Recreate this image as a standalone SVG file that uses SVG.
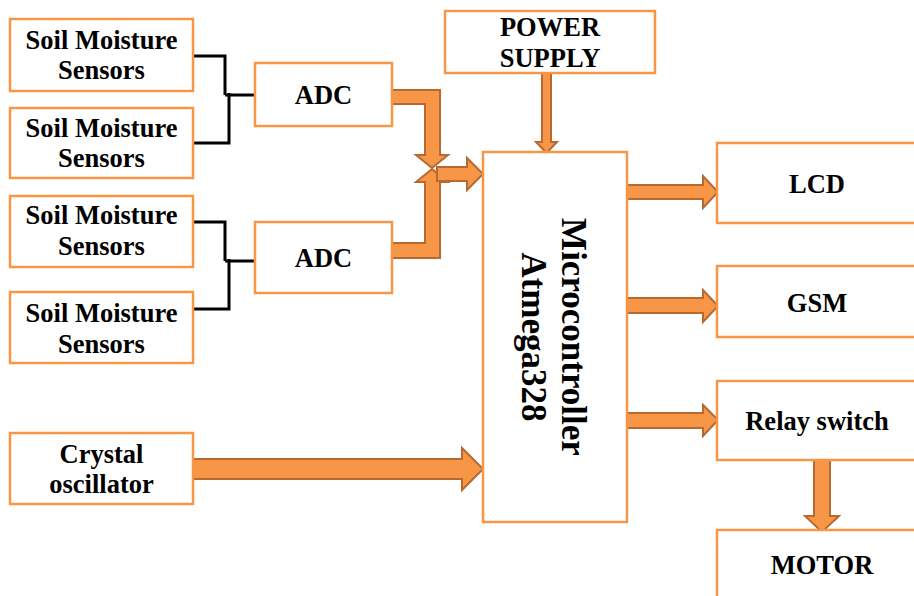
<svg xmlns="http://www.w3.org/2000/svg" width="914" height="596" viewBox="0 0 914 596">
<style>
.box{fill:#fff;stroke:#F79646;stroke-width:2.5}
.t{font-family:"Liberation Serif","Times New Roman",serif;font-weight:bold;font-size:26.5px;fill:#000;text-anchor:middle}
.arr{fill:#F79646;stroke:#B8692F;stroke-width:2;stroke-linejoin:miter}
.wire{fill:none;stroke:#000;stroke-width:3}
</style>
<rect width="914" height="596" fill="#fff"/>
<g id="connectors">
<polyline class="wire" points="193,56 225,56 225,95"/>
<polyline class="wire" points="193,143 229,143 229,93"/>
<line class="wire" x1="225" y1="95" x2="256" y2="95"/>
<polyline class="wire" points="193,222 225,222 225,261"/>
<polyline class="wire" points="193,309 229,309 229,259"/>
<line class="wire" x1="225" y1="261" x2="256" y2="261"/>
<polygon class="arr" points="392,90 440,90 440,155 448,155 432,168 416,155 425,155 425,104 392,104"/>
<polygon class="arr" points="392,258 440,258 440,182 448,182 432,169 416,182 425,182 425,243 392,243"/>
<polygon class="arr" points="437,167 467,167 467,158 483,174 467,190 467,181 437,181"/>
<polygon class="arr" points="542,73 551,73 551,142 557,142 546.5,153 536,142 542,142"/>
<polygon class="arr" points="193,459 462,459 462,448 483,469 462,490 462,479 193,479"/>
<polygon class="arr" points="627,185 703,185 703,176 718,192 703,208 703,199 627,199"/>
<polygon class="arr" points="627,298 703,298 703,290 718,306 703,322 703,313 627,313"/>
<polygon class="arr" points="627,413 703,413 703,405 718,420 703,436 703,428 627,428"/>
<polygon class="arr" points="814,460 830,460 830,516 839,516 822,532 805,516 814,516"/>
</g>
<g id="soil1"><rect class="box" x="10" y="19" width="183" height="72"/><text class="t" x="101.5" y="49">Soil Moisture</text><text class="t" x="101.5" y="79">Sensors</text></g>
<g id="soil2"><rect class="box" x="10" y="108" width="183" height="70"/><text class="t" x="101.5" y="137">Soil Moisture</text><text class="t" x="101.5" y="167">Sensors</text></g>
<g id="soil3"><rect class="box" x="10" y="196" width="183" height="71"/><text class="t" x="101.5" y="224">Soil Moisture</text><text class="t" x="101.5" y="255">Sensors</text></g>
<g id="soil4"><rect class="box" x="10" y="292" width="183" height="71"/><text class="t" x="101.5" y="322">Soil Moisture</text><text class="t" x="101.5" y="353">Sensors</text></g>
<g id="adc1"><rect class="box" x="255" y="63" width="137" height="63"/><text class="t" x="323.5" y="104">ADC</text></g>
<g id="adc2"><rect class="box" x="255" y="222" width="137" height="71"/><text class="t" x="323.5" y="267">ADC</text></g>
<g id="crystal"><rect class="box" x="10" y="433" width="183" height="71"/><text class="t" x="101.5" y="463">Crystal</text><text class="t" x="101.5" y="493">oscillator</text></g>
<g id="power"><rect class="box" x="445" y="11" width="210" height="62"/><text class="t" x="550" y="36">POWER</text><text class="t" x="550" y="67">SUPPLY</text></g>
<g id="mcu"><rect class="box" x="483" y="152" width="144" height="370"/>
<text class="t" style="font-size:35px" transform="translate(562,337) rotate(90)" x="0" y="0">Microcontroller</text>
<text class="t" style="font-size:35px" transform="translate(522,337) rotate(90)" x="0" y="0">Atmega328</text></g>
<g id="lcd"><rect class="box" x="717" y="143" width="210" height="80"/><text class="t" x="817" y="193">LCD</text></g>
<g id="gsm"><rect class="box" x="717" y="266" width="210" height="71"/><text class="t" x="817" y="312">GSM</text></g>
<g id="relay"><rect class="box" x="717" y="381" width="210" height="79"/><text class="t" x="817" y="430">Relay switch</text></g>
<g id="motor"><rect class="box" x="717" y="530" width="210" height="80"/><text class="t" x="822" y="574">MOTOR</text></g>
</svg>
